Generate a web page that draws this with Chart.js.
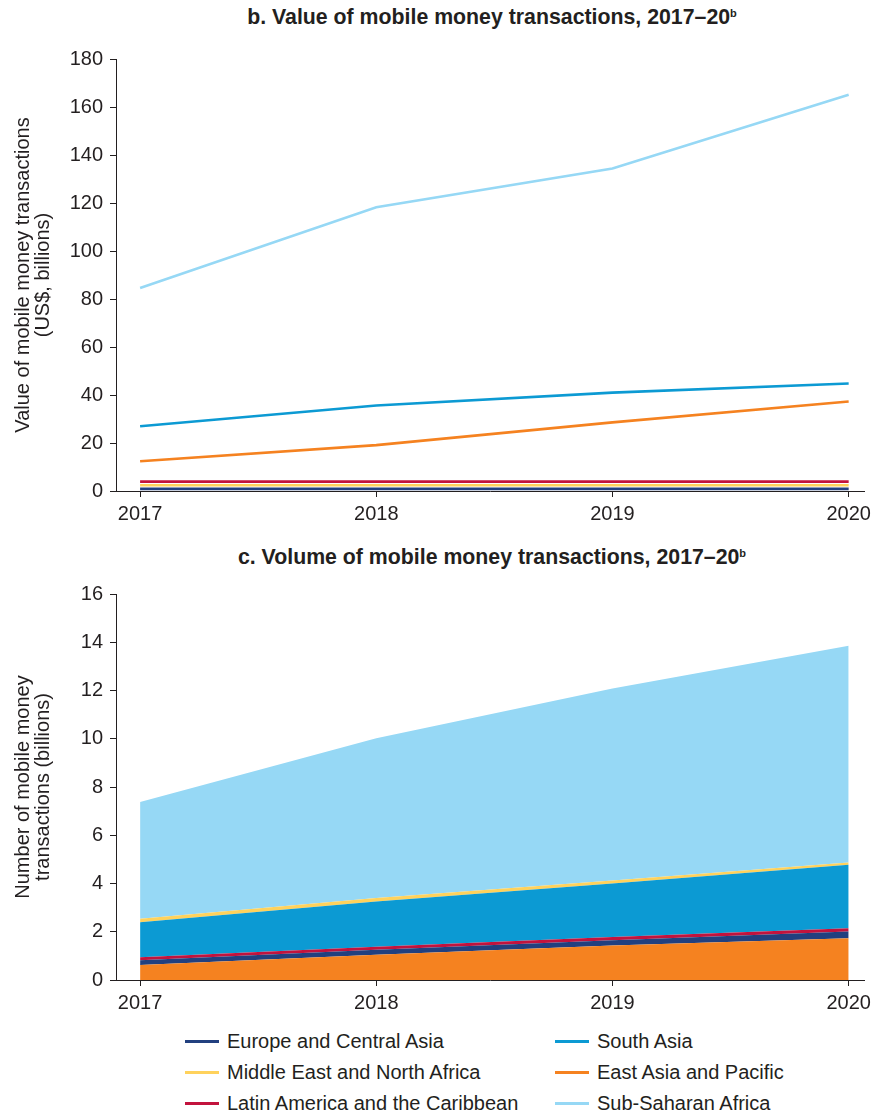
<!DOCTYPE html>
<html>
<head>
<meta charset="utf-8">
<script src="https://cdn.jsdelivr.net/npm/chart.js@4.4.1/dist/chart.umd.min.js"></script>
<style>
  html, body { margin: 0; padding: 0; background: #fff; overflow: hidden; }
  #wrap { position: relative; width: 872px; height: 1115px; overflow: hidden; font-family: "Liberation Sans", Arial, sans-serif; color: #231f20; }
  .title { position: absolute; left: 0; width: 984px; text-align: center; font-weight: bold; font-size: 21.3px; white-space: nowrap; line-height: 24px; }
  .title sup { font-size: 11px; vertical-align: 7px; line-height: 0; }
  canvas { position: absolute; left: 0; }
  .leg { position: absolute; font-size: 20px; white-space: nowrap; line-height: 20px; }
  .leg span.sw { position: absolute; top: 9px; width: 34px; height: 3px; }
</style>
</head>
<body>
<div id="wrap">
  <div class="title" style="top:5px;">b. Value of mobile money transactions, 2017–20<sup>b</sup></div>
  <div style="position:absolute;left:0;top:40px;width:876px;height:486px;"><canvas id="c1"></canvas></div>
  <div class="title" style="top:545px;">c. Volume of mobile money transactions, 2017–20<sup>b</sup></div>
  <div style="position:absolute;left:0;top:575px;width:876px;height:440px;"><canvas id="c2"></canvas></div>
  <div id="legend"></div>
</div>
<script>
// ---------- data ----------
const years = [2017, 2018, 2019, 2020];

const regionNames = ["Europe and Central Asia", "Middle East and North Africa", "Latin America and the Caribbean",
                     "South Asia", "East Asia and Pacific", "Sub-Saharan Africa"];

// panel b: value (US$ billions)
const valueECA  = [0.9, 0.9, 0.9, 0.9];
const valueMENA = [2.4, 2.4, 2.4, 2.4];
const valueLAC  = [3.9, 3.9, 3.9, 3.9];
const valueSA   = [27.0, 35.6, 41.0, 44.8];
const valueEAP  = [12.4, 19.1, 28.6, 37.3];
const valueSSA  = [84.6, 118.2, 134.4, 165.1];

// panel c: volume (billions of transactions), stacked
const volEAP  = [0.62, 1.05, 1.43, 1.73];
const volECA  = [0.20, 0.20, 0.22, 0.28];
const volLAC  = [0.12, 0.13, 0.13, 0.13];
const volSA   = [1.45, 1.87, 2.22, 2.64];
const volMENA = [0.15, 0.15, 0.12, 0.09];
const volSSA  = [4.84, 6.62, 7.96, 8.99];

const valueTicks = [0, 20, 40, 60, 80, 100, 120, 140, 160, 180];
const volumeTicks = [0, 2, 4, 6, 8, 10, 12, 14, 16];

// ---------- styles ----------
const colors = {
  "Europe and Central Asia": "#22407f",
  "Middle East and North Africa": "#ffd25c",
  "Latin America and the Caribbean": "#c2133d",
  "South Asia": "#0c9ad3",
  "East Asia and Pacific": "#f58220",
  "Sub-Saharan Africa": "#96d8f5"
};
const ink = "#231f20";
const FONT = "'Liberation Sans', Arial, sans-serif";

const pts = arr => arr.map((v, i) => ({ x: years[i], y: v }));

function xScale() {
  return {
    type: 'linear', min: 2016.898, max: 2020.068,
    afterBuildTicks: s => { s.ticks = years.map(v => ({ value: v })); },
    afterFit: s => { s.height = 35; },
    grid: { drawOnChartArea: false, color: ink, tickLength: 6, tickWidth: 1 },
    border: { color: ink, width: 1 },
    ticks: { color: ink, font: { family: FONT, size: 20 }, padding: 5, maxRotation: 0, autoSkip: false,
             callback: v => String(v) }
  };
}
function yScale(max, ticksArr, titleLines) {
  return {
    type: 'linear', min: 0, max: max,
    afterBuildTicks: s => { s.ticks = ticksArr.map(v => ({ value: v })); },
    afterFit: s => { s.width = 116; },
    grid: { drawOnChartArea: false, color: ink, tickLength: 6, tickWidth: 1 },
    border: { color: ink, width: 1 },
    ticks: { color: ink, font: { family: FONT, size: 20 }, padding: 7, callback: v => String(v) },
    title: { display: true, text: titleLines, color: ink, font: { family: FONT, size: 20, lineHeight: 1.0 },
             padding: { top: 13, bottom: 0 } }
  };
}

Chart.defaults.animation = false;

// ---------- panel b ----------
const lineOrder = [
  ["Sub-Saharan Africa", valueSSA],
  ["South Asia", valueSA],
  ["East Asia and Pacific", valueEAP],
  ["Latin America and the Caribbean", valueLAC],
  ["Middle East and North Africa", valueMENA],
  ["Europe and Central Asia", valueECA]
];
new Chart(document.getElementById('c1'), {
  type: 'line',
  data: {
    datasets: lineOrder.map(([name, arr]) => ({
      label: name, data: pts(arr), borderColor: colors[name], backgroundColor: colors[name],
      borderWidth: 2.6, pointRadius: 0, tension: 0, fill: false
    }))
  },
  options: {
    responsive: true, maintainAspectRatio: false,
    layout: { padding: { top: 17, right: 4, left: 0, bottom: 0 } },
    plugins: { legend: { display: false }, tooltip: { enabled: false } },
    scales: {
      x: xScale(),
      y: yScale(180, valueTicks, ["Value of mobile money transactions", "(US$, billions)"])
    }
  }
});

// ---------- panel c ----------
const stackOrder = [
  ["East Asia and Pacific", volEAP],
  ["Europe and Central Asia", volECA],
  ["Latin America and the Caribbean", volLAC],
  ["South Asia", volSA],
  ["Middle East and North Africa", volMENA],
  ["Sub-Saharan Africa", volSSA]
];
new Chart(document.getElementById('c2'), {
  type: 'line',
  data: {
    datasets: stackOrder.map(([name, arr], i) => ({
      label: name, data: pts(arr), borderColor: 'rgba(255,255,255,0)', backgroundColor: colors[name],
      borderWidth: 0, pointRadius: 0, tension: 0, fill: i === 0 ? 'origin' : '-1'
    }))
  },
  options: {
    responsive: true, maintainAspectRatio: false,
    layout: { padding: { top: 17, right: 4, left: 0, bottom: 0 } },
    plugins: { legend: { display: false }, tooltip: { enabled: false }, filler: { propagate: false } },
    scales: {
      x: xScale(),
      y: Object.assign(yScale(16, volumeTicks, ["Number of mobile money", "transactions (billions)"]), { stacked: true })
    }
  }
});

// ---------- legend (HTML, from names/colours) ----------
const legendCols = [
  ["Europe and Central Asia", "Middle East and North Africa", "Latin America and the Caribbean"],
  ["South Asia", "East Asia and Pacific", "Sub-Saharan Africa"]
];
const legEl = document.getElementById('legend');
const colX = [185, 555];
legendCols.forEach((col, ci) => {
  col.forEach((name, ri) => {
    const d = document.createElement('div');
    d.className = 'leg';
    d.style.left = colX[ci] + 'px';
    d.style.top = (1031 + ri * 31) + 'px';
    d.style.paddingLeft = '42px';
    d.innerHTML = '<span class="sw" style="left:0;background:' + colors[name] + '"></span>' + name;
    legEl.appendChild(d);
  });
});
</script>
</body>
</html>
